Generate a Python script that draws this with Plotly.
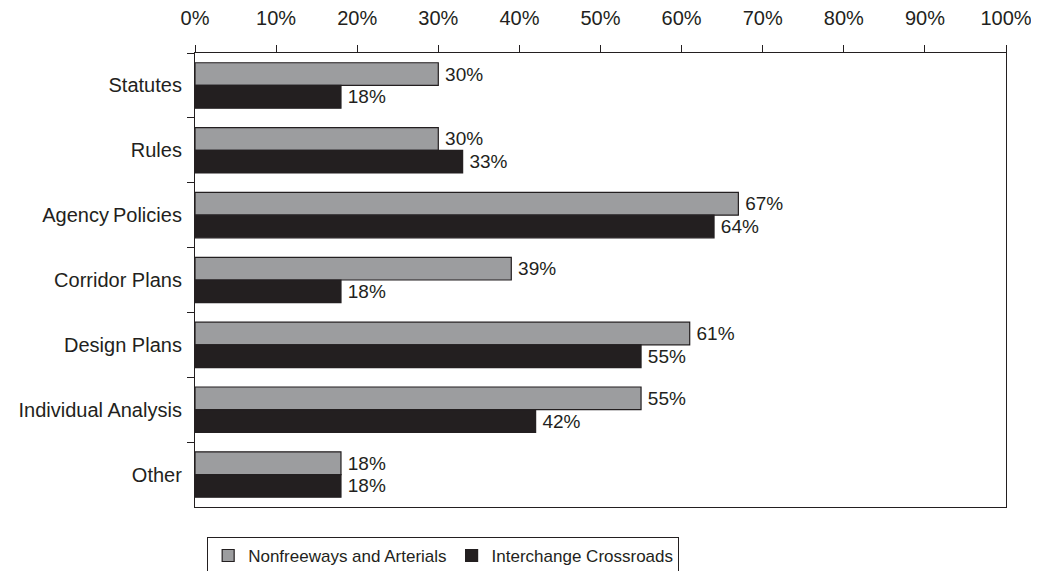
import plotly.graph_objects as go

categories = ["Statutes", "Rules", "Agency\u2009Policies", "Corridor Plans", "Design Plans", "Individual Analysis", "Other"]
nonfreeways = [30, 30, 67, 39, 61, 55, 18]
interchange = [18, 33, 64, 18, 55, 42, 18]
tick_vals = [0, 10, 20, 30, 40, 50, 60, 70, 80, 90, 100]
tick_text = [f"{v}%" for v in tick_vals]

FONT = "Liberation Sans, Arial, Helvetica, sans-serif"
INK = "#231f20"

fig = go.Figure()
fig.add_trace(go.Bar(
    y=categories, x=nonfreeways, orientation="h", name="Nonfreeways and Arterials",
    marker=dict(color="#9c9d9f", line=dict(color=INK, width=1.2)),
    text=[f"\u2009{v}%" for v in nonfreeways], textposition="outside",
    textfont=dict(color=INK, size=19, family=FONT), cliponaxis=False,
))
fig.add_trace(go.Bar(
    y=categories, x=interchange, orientation="h", name="Interchange Crossroads",
    marker=dict(color=INK, line=dict(color=INK, width=1.2)),
    text=[f"\u2009{v}%" for v in interchange], textposition="outside",
    textfont=dict(color=INK, size=19, family=FONT), cliponaxis=False,
))

fig.update_layout(
    width=1039, height=571,
    margin=dict(l=187, r=41, t=45, b=72, autoexpand=False),
    paper_bgcolor="white", plot_bgcolor="white",
    barmode="group", bargap=0.3, bargroupgap=0,
    font=dict(family=FONT, size=20, color=INK),
    showlegend=True,
    legend=dict(orientation="h", x=0.015, xanchor="left", y=-0.066, yanchor="top",
                bordercolor=INK, borderwidth=1, font=dict(size=17),
                itemwidth=30, tracegroupgap=0),
    xaxis=dict(side="top", range=[0, 100], tickvals=tick_vals, ticktext=tick_text,
               showgrid=False, zeroline=False, showline=True, linecolor=INK,
               linewidth=1.2, mirror=True, ticks="outside", ticklen=7,
               tickcolor=INK, tickfont=dict(size=20), ticklabelstandoff=12,
               automargin=False),
    yaxis=dict(autorange="reversed", showgrid=False, zeroline=False, showline=True,
               linecolor=INK, linewidth=1.2, mirror=True, ticks="outside",
               tickson="boundaries", ticklen=7, tickcolor=INK,
               tickfont=dict(size=20), ticklabelstandoff=8, automargin=False),
)

fig.write_html("out.html")
